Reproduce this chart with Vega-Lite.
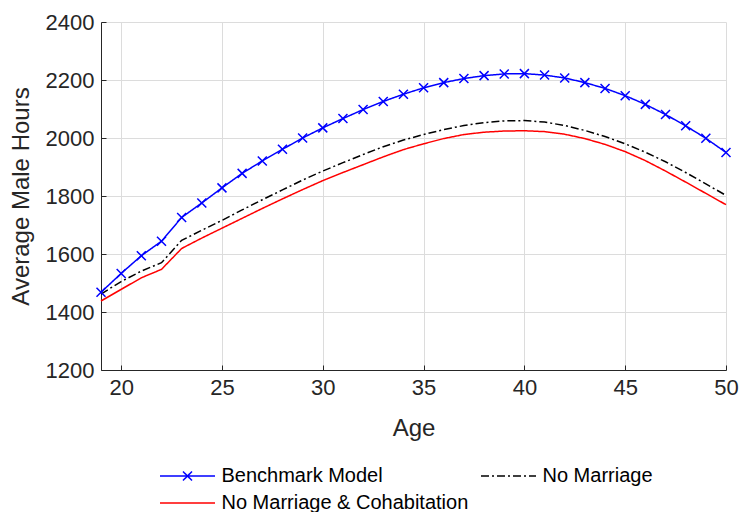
{
  "$schema": "https://vega.github.io/schema/vega-lite/v6.json",
  "width": 625,
  "height": 348,
  "autosize": {"type": "none"},
  "padding": {"left": 101, "top": 22, "right": 14, "bottom": 142},
  "background": "white",
  "config": {
    "font": "Liberation Sans",
    "view": {"stroke": null},
    "axis": {
      "domainColor": "#262626",
      "domainWidth": 1,
      "tickColor": "#262626",
      "tickSize": -5,
      "gridColor": "#dcdcdc",
      "gridWidth": 1,
      "labelColor": "#262626",
      "labelFont": "Liberation Sans",
      "labelFontSize": 22,
      "titleFont": "Liberation Sans",
      "titleFontSize": 24,
      "titleFontWeight": "normal",
      "titleColor": "#262626"
    },
    "legend": {
      "title": null,
      "orient": "none",
      "direction": "horizontal",
      "legendX": 59,
      "legendY": 443,
      "columns": 2,
      "columnPadding": 9,
      "rowPadding": 6,
      "labelFont": "Liberation Sans",
      "labelFontSize": 20,
      "labelColor": "#000000",
      "labelLimit": 500,
      "labelOffset": 23,
      "symbolSize": 400,
      "symbolOffset": 16.5,
      "symbolStrokeWidth": 1.5
    }
  },
  "datasets": {
    "hours": [
      {"age": 19, "series": "Benchmark Model", "hours": 1468},
      {"age": 20, "series": "Benchmark Model", "hours": 1533},
      {"age": 21, "series": "Benchmark Model", "hours": 1594},
      {"age": 22, "series": "Benchmark Model", "hours": 1644},
      {"age": 23, "series": "Benchmark Model", "hours": 1726},
      {"age": 24, "series": "Benchmark Model", "hours": 1776},
      {"age": 25, "series": "Benchmark Model", "hours": 1828},
      {"age": 26, "series": "Benchmark Model", "hours": 1878},
      {"age": 27, "series": "Benchmark Model", "hours": 1921},
      {"age": 28, "series": "Benchmark Model", "hours": 1961},
      {"age": 29, "series": "Benchmark Model", "hours": 2000},
      {"age": 30, "series": "Benchmark Model", "hours": 2035},
      {"age": 31, "series": "Benchmark Model", "hours": 2067},
      {"age": 32, "series": "Benchmark Model", "hours": 2098},
      {"age": 33, "series": "Benchmark Model", "hours": 2126},
      {"age": 34, "series": "Benchmark Model", "hours": 2151},
      {"age": 35, "series": "Benchmark Model", "hours": 2173},
      {"age": 36, "series": "Benchmark Model", "hours": 2191},
      {"age": 37, "series": "Benchmark Model", "hours": 2205},
      {"age": 38, "series": "Benchmark Model", "hours": 2215},
      {"age": 39, "series": "Benchmark Model", "hours": 2221},
      {"age": 40, "series": "Benchmark Model", "hours": 2222},
      {"age": 41, "series": "Benchmark Model", "hours": 2217},
      {"age": 42, "series": "Benchmark Model", "hours": 2207},
      {"age": 43, "series": "Benchmark Model", "hours": 2191},
      {"age": 44, "series": "Benchmark Model", "hours": 2171},
      {"age": 45, "series": "Benchmark Model", "hours": 2146},
      {"age": 46, "series": "Benchmark Model", "hours": 2116},
      {"age": 47, "series": "Benchmark Model", "hours": 2081},
      {"age": 48, "series": "Benchmark Model", "hours": 2042},
      {"age": 49, "series": "Benchmark Model", "hours": 1999},
      {"age": 50, "series": "Benchmark Model", "hours": 1950},
      {"age": 19, "series": "No Marriage", "hours": 1462},
      {"age": 20, "series": "No Marriage", "hours": 1505},
      {"age": 21, "series": "No Marriage", "hours": 1541},
      {"age": 22, "series": "No Marriage", "hours": 1570},
      {"age": 23, "series": "No Marriage", "hours": 1647},
      {"age": 24, "series": "No Marriage", "hours": 1682},
      {"age": 25, "series": "No Marriage", "hours": 1716},
      {"age": 26, "series": "No Marriage", "hours": 1752},
      {"age": 27, "series": "No Marriage", "hours": 1787},
      {"age": 28, "series": "No Marriage", "hours": 1821},
      {"age": 29, "series": "No Marriage", "hours": 1855},
      {"age": 30, "series": "No Marriage", "hours": 1886},
      {"age": 31, "series": "No Marriage", "hours": 1915},
      {"age": 32, "series": "No Marriage", "hours": 1943},
      {"age": 33, "series": "No Marriage", "hours": 1970},
      {"age": 34, "series": "No Marriage", "hours": 1993},
      {"age": 35, "series": "No Marriage", "hours": 2012},
      {"age": 36, "series": "No Marriage", "hours": 2029},
      {"age": 37, "series": "No Marriage", "hours": 2043},
      {"age": 38, "series": "No Marriage", "hours": 2053},
      {"age": 39, "series": "No Marriage", "hours": 2059},
      {"age": 40, "series": "No Marriage", "hours": 2060},
      {"age": 41, "series": "No Marriage", "hours": 2055},
      {"age": 42, "series": "No Marriage", "hours": 2043},
      {"age": 43, "series": "No Marriage", "hours": 2026},
      {"age": 44, "series": "No Marriage", "hours": 2005},
      {"age": 45, "series": "No Marriage", "hours": 1980},
      {"age": 46, "series": "No Marriage", "hours": 1951},
      {"age": 47, "series": "No Marriage", "hours": 1918},
      {"age": 48, "series": "No Marriage", "hours": 1881},
      {"age": 49, "series": "No Marriage", "hours": 1842},
      {"age": 50, "series": "No Marriage", "hours": 1802},
      {"age": 19, "series": "No Marriage & Cohabitation", "hours": 1438},
      {"age": 20, "series": "No Marriage & Cohabitation", "hours": 1478},
      {"age": 21, "series": "No Marriage & Cohabitation", "hours": 1518},
      {"age": 22, "series": "No Marriage & Cohabitation", "hours": 1547},
      {"age": 23, "series": "No Marriage & Cohabitation", "hours": 1619},
      {"age": 24, "series": "No Marriage & Cohabitation", "hours": 1655},
      {"age": 25, "series": "No Marriage & Cohabitation", "hours": 1689},
      {"age": 26, "series": "No Marriage & Cohabitation", "hours": 1723},
      {"age": 27, "series": "No Marriage & Cohabitation", "hours": 1757},
      {"age": 28, "series": "No Marriage & Cohabitation", "hours": 1790},
      {"age": 29, "series": "No Marriage & Cohabitation", "hours": 1822},
      {"age": 30, "series": "No Marriage & Cohabitation", "hours": 1853},
      {"age": 31, "series": "No Marriage & Cohabitation", "hours": 1881},
      {"age": 32, "series": "No Marriage & Cohabitation", "hours": 1908},
      {"age": 33, "series": "No Marriage & Cohabitation", "hours": 1935},
      {"age": 34, "series": "No Marriage & Cohabitation", "hours": 1960},
      {"age": 35, "series": "No Marriage & Cohabitation", "hours": 1980},
      {"age": 36, "series": "No Marriage & Cohabitation", "hours": 1998},
      {"age": 37, "series": "No Marriage & Cohabitation", "hours": 2012},
      {"age": 38, "series": "No Marriage & Cohabitation", "hours": 2020},
      {"age": 39, "series": "No Marriage & Cohabitation", "hours": 2024},
      {"age": 40, "series": "No Marriage & Cohabitation", "hours": 2025},
      {"age": 41, "series": "No Marriage & Cohabitation", "hours": 2022},
      {"age": 42, "series": "No Marriage & Cohabitation", "hours": 2013},
      {"age": 43, "series": "No Marriage & Cohabitation", "hours": 1998},
      {"age": 44, "series": "No Marriage & Cohabitation", "hours": 1978},
      {"age": 45, "series": "No Marriage & Cohabitation", "hours": 1953},
      {"age": 46, "series": "No Marriage & Cohabitation", "hours": 1922},
      {"age": 47, "series": "No Marriage & Cohabitation", "hours": 1886},
      {"age": 48, "series": "No Marriage & Cohabitation", "hours": 1848},
      {"age": 49, "series": "No Marriage & Cohabitation", "hours": 1809},
      {"age": 50, "series": "No Marriage & Cohabitation", "hours": 1770}
    ]
  },
  "data": {"name": "hours"},
  "encoding": {
    "x": {
      "field": "age",
      "type": "quantitative",
      "title": "Age",
      "scale": {"domain": [19, 50], "nice": false, "zero": false},
      "axis": {"values": [20, 25, 30, 35, 40, 45, 50], "format": "d", "labelPadding": 12, "titlePadding": 18, "labelFlush": false}
    },
    "y": {
      "field": "hours",
      "type": "quantitative",
      "title": "Average Male Hours",
      "scale": {"domain": [1200, 2400], "nice": false, "zero": false},
      "axis": {"values": [1200, 1400, 1600, 1800, 2000, 2200, 2400], "format": "d", "labelPadding": 12, "titlePadding": 12, "labelFlush": false}
    }
  },
  "layer": [
    {
      "mark": {"type": "line", "strokeWidth": 1.5},
      "encoding": {
        "color": {
          "field": "series",
          "type": "nominal",
          "scale": {
            "domain": ["Benchmark Model", "No Marriage", "No Marriage & Cohabitation"],
            "range": ["#0000ff", "#000000", "#ff0000"]
          },
          "legend": {
            "encode": {
              "symbols": {
                "update": {
                  "shape": {"signal": "datum.value === 'Benchmark Model' ? 'M-2.75,0L2.75,0M-0.45,-0.45L0.45,0.45M-0.45,0.45L0.45,-0.45' : 'M-2.75,0L2.75,0'"}
                }
              }
            }
          }
        },
        "strokeDash": {
          "field": "series",
          "type": "nominal",
          "scale": {
            "domain": ["Benchmark Model", "No Marriage", "No Marriage & Cohabitation"],
            "range": [[1, 0], [8, 3, 2, 3], [1, 0]]
          },
          "legend": {
            "encode": {
              "symbols": {
                "update": {
                  "shape": {"signal": "datum.value === 'Benchmark Model' ? 'M-2.75,0L2.75,0M-0.45,-0.45L0.45,0.45M-0.45,0.45L0.45,-0.45' : 'M-2.75,0L2.75,0'"}
                }
              }
            }
          }
        }
      }
    },
    {
      "transform": [{"filter": "datum.series === 'Benchmark Model'"}],
      "mark": {
        "type": "point",
        "shape": "M-1,-1L1,1M-1,1L1,-1",
        "size": 81,
        "filled": false,
        "stroke": "#0000ff",
        "strokeWidth": 1.5,
        "opacity": 1
      }
    }
  ]
}
